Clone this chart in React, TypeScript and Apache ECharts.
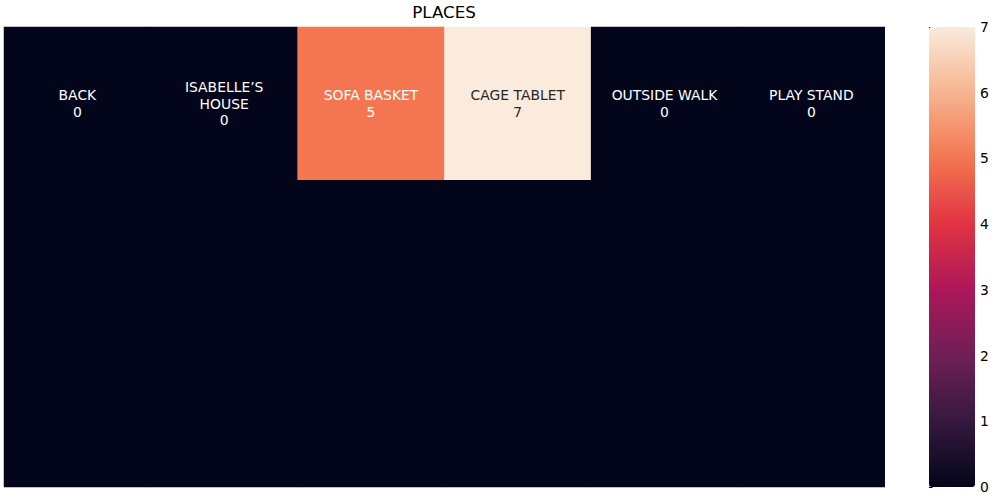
import React, { useEffect, useRef } from "react";
import * as echarts from "echarts";

const places = ["BACK", "ISABELLE’S\nHOUSE", "SOFA BASKET", "CAGE TABLET", "OUTSIDE WALK", "PLAY STAND"];
const rowLabels = ["r0", "r1", "r2"];
const row0Values = [0, 0, 5, 7, 0, 0];
const row1Values = [0, 0, 0, 0, 0, 0];
const row2Values = [0, 0, 0, 0, 0, 0];
const colorbarTicks = [0, 1, 2, 3, 4, 5, 6, 7];
const rocket = ["#03051a", "#35193e", "#701f57", "#ad1759", "#e13342", "#f37651", "#f6b48f", "#faebdd"];

export default function App() {
  const ref = useRef<HTMLDivElement>(null);
  useEffect(() => {
    const chart = echarts.init(ref.current!, null, { renderer: "svg" });
    const rows = [row0Values, row1Values, row2Values];
    const data: any[] = [];
    rows.forEach((vals, r) => {
      vals.forEach((v, c) => {
        data.push({
          value: [c, r, v],
          label: {
            show: r === 0,
            color: v >= 6 ? "#262626" : "#ffffff",
          },
        });
      });
    });
    const font = "DejaVu Sans";
    chart.setOption({
      animation: false,
      graphic: [
        {
          type: "text",
          x: 444,
          y: 12,
          style: {
            text: "PLACES",
            fontFamily: font,
            fontSize: 16.7,
            fill: "#000",
            textAlign: "center",
            textVerticalAlign: "middle",
          },
        },
      ],
      grid: [
        { left: 4, top: 27, width: 880.7, height: 460, show: true, backgroundColor: rocket[0], borderWidth: 0 },
        { left: 929, top: 27, width: 46, height: 460 },
      ],
      xAxis: [
        { type: "category", data: places, gridIndex: 0, show: false },
        { type: "value", gridIndex: 1, show: false, min: 0, max: 1 },
      ],
      yAxis: [
        { type: "category", data: rowLabels, gridIndex: 0, inverse: true, show: false },
        {
          type: "value",
          gridIndex: 1,
          position: "right",
          min: 0,
          max: 7,
          interval: 1,
          axisLine: { show: false },
          splitLine: { show: false },
          axisTick: { show: true, length: 3.5, lineStyle: { color: "#000", width: 1 } },
          axisLabel: {
            margin: 5,
            color: "#000",
            fontFamily: font,
            fontSize: 13.9,
            formatter: (v: number) => (colorbarTicks.includes(v) ? String(v) : ""),
          },
        },
      ],
      visualMap: {
        type: "continuous",
        min: 0,
        max: 7,
        calculable: false,
        seriesIndex: 0,
        left: 929,
        top: 27,
        padding: 0,
        itemWidth: 46,
        itemHeight: 460,
        text: ["", ""],
        showLabel: false,
        inRange: { color: rocket },
      },
      series: [
        {
          type: "heatmap",
          xAxisIndex: 0,
          yAxisIndex: 0,
          data,
          label: {
            show: true,
            fontFamily: font,
            fontSize: 13.9,
            lineHeight: 16.5,
            align: "center",
            formatter: (p: any) => `${places[p.value[0]]}\n${p.value[2]}`,
          },
          emphasis: { disabled: true },
          itemStyle: { borderWidth: 0 },
        },
        {
          type: "scatter",
          xAxisIndex: 1,
          yAxisIndex: 1,
          data: [],
        },
      ],
    });
    return () => chart.dispose();
  }, []);
  return <div ref={ref} style={{ width: 1000, height: 500, position: "absolute", left: 0, top: 0 }} />;
}
